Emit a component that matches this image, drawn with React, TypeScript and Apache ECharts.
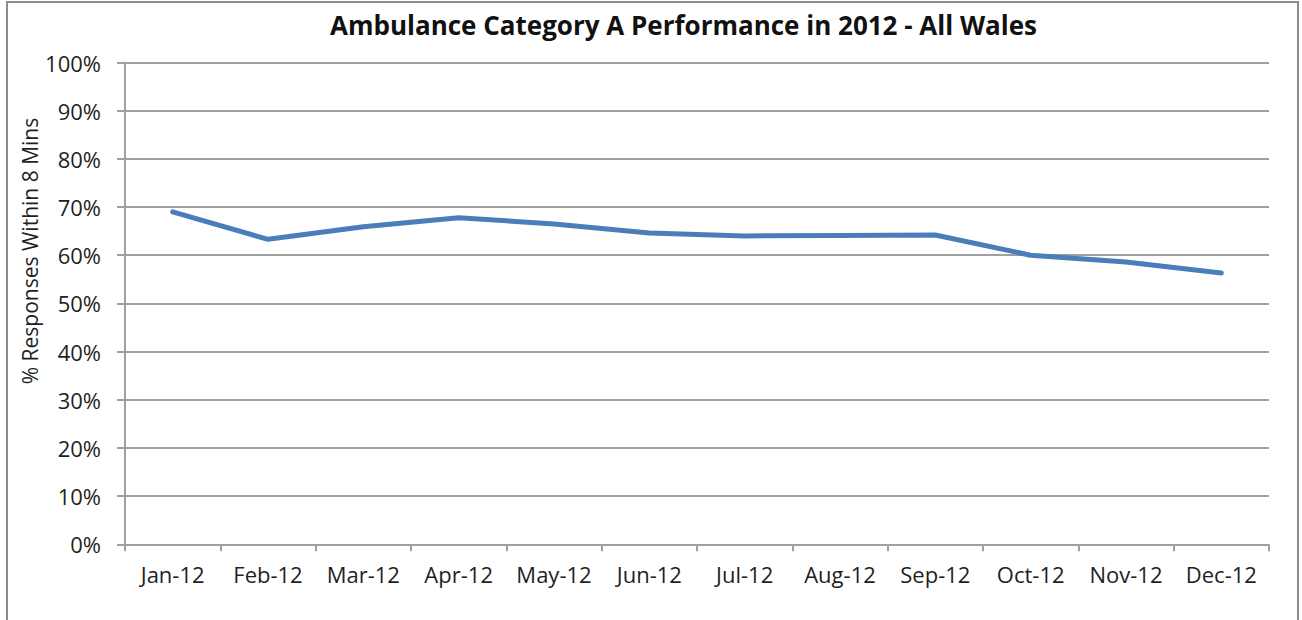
import React, { useEffect, useRef } from "react";
import * as echarts from "echarts";

// Monthly Category A performance, % of responses within 8 minutes
const months = [
  "Jan-12", "Feb-12", "Mar-12", "Apr-12", "May-12", "Jun-12",
  "Jul-12", "Aug-12", "Sep-12", "Oct-12", "Nov-12", "Dec-12",
];
const responsePct = [69.0, 63.3, 65.9, 67.8, 66.5, 64.6, 64.0, 64.1, 64.2, 60.0, 58.6, 56.3];

const titleText = "Ambulance Category A Performance in 2012 - All Wales";
const yAxisTitle = "% Responses Within 8 Mins";

const FONT = "'Open Sans', 'Liberation Sans', sans-serif";
const GRID_GREY = "#a0a0a0";
const TEXT = "#1f1f1f";

export default function App() {
  const ref = useRef<HTMLDivElement>(null);

  useEffect(() => {
    document.body.style.margin = "0";
    if (!ref.current) return;
    const chart = echarts.init(ref.current, null, { renderer: "svg" });
    chart.setOption({
      animation: false,
      backgroundColor: "#ffffff",
      textStyle: { fontFamily: FONT },
      title: {
        text: titleText,
        left: 325,
        top: 7,
        textStyle: { fontFamily: FONT, fontSize: 26, fontWeight: "bold", color: "#111" },
      },
      graphic: [
        {
          type: "rect",
          shape: { x: 7, y: 2, width: 1291, height: 640 },
          style: { fill: "none", stroke: "#8c8c8c", lineWidth: 2 },
          silent: true,
          z: -1,
        },
        {
          type: "text",
          x: 30,
          y: 251,
          rotation: Math.PI / 2,
          style: {
            text: yAxisTitle,
            fontFamily: FONT,
            fontSize: 21,
            fill: TEXT,
            textAlign: "center",
            textVerticalAlign: "middle",
          },
        },
      ],
      grid: { left: 125, right: 33, top: 62.5, bottom: 75.7, containLabel: false },
      xAxis: {
        type: "category",
        data: months,
        boundaryGap: true,
        axisLine: { show: true, lineStyle: { color: GRID_GREY, width: 2 } },
        axisTick: { show: true, length: 7, alignWithLabel: false, lineStyle: { color: GRID_GREY, width: 2 } },
        axisLabel: { fontFamily: FONT, fontSize: 22, color: TEXT, margin: 19, interval: 0 },
        splitLine: { show: false },
      },
      yAxis: {
        type: "value",
        min: 0,
        max: 100,
        interval: 10,
        axisLine: { show: true, lineStyle: { color: GRID_GREY, width: 2 } },
        axisTick: { show: true, length: 8, lineStyle: { color: GRID_GREY, width: 2 } },
        axisLabel: { fontFamily: FONT, fontSize: 22, color: TEXT, margin: 24, formatter: "{value}%" },
        splitLine: { show: true, lineStyle: { color: GRID_GREY, width: 2 } },
      },
      series: [
        {
          type: "line",
          data: responsePct,
          symbol: "none",
          lineStyle: { color: "#4A7EBB", width: 5, cap: "round", join: "round" },
        },
      ],
    });
    return () => chart.dispose();
  }, []);

  return <div ref={ref} style={{ width: 1302, height: 620 }} />;
}
